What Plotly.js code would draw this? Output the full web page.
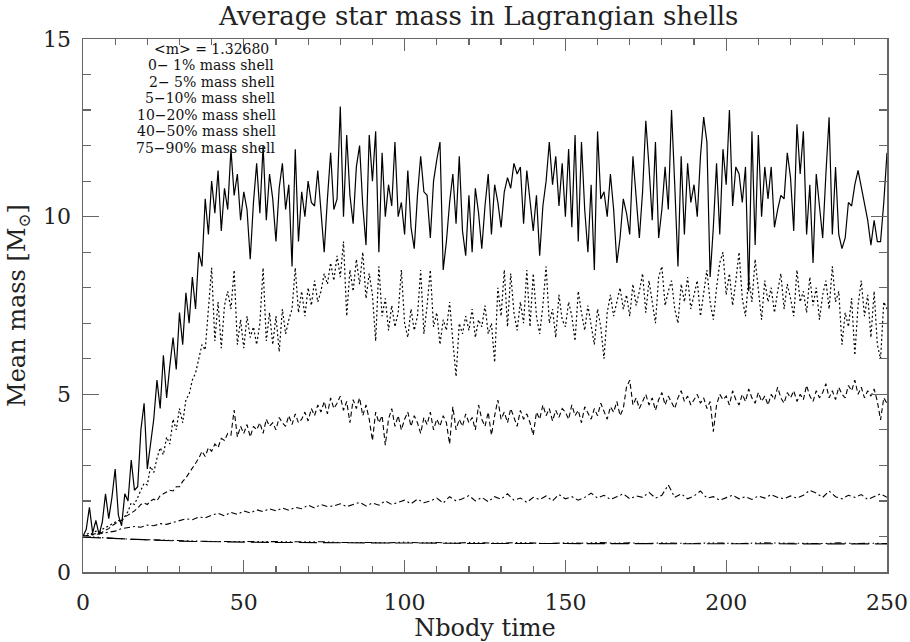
<!DOCTYPE html>
<html>
<head>
<meta charset="utf-8">
<script src="https://cdn.plot.ly/plotly-3.0.1.min.js"></script>
<style>html,body{margin:0;padding:0;background:#fff;}#chart{width:910px;height:642px;}</style>
</head>
<body>
<div id="chart"></div>
<script>
// ---- data (Nbody time, mean mass in solar masses) ----
var stepInner = 1;   // time step of the three inner shells
var stepMid = 2;     // time step of 10-20% shell
var stepOuter = 5;   // time step of outer shells

var shell0_1 = [
1.00,1.20,1.82,1.10,1.45,1.05,1.40,2.20,1.50,2.10,
2.90,1.60,1.30,2.20,2.00,3.15,2.30,2.40,4.00,4.75,
2.90,3.60,4.30,5.40,4.60,6.10,4.90,5.80,6.60,5.70,
7.30,6.40,7.86,7.00,8.30,7.40,9.00,8.60,10.50,9.50,
11.00,10.10,11.30,9.60,10.80,10.20,11.90,10.60,11.20,9.90,
10.70,10.20,8.80,10.40,11.50,10.10,12.00,9.90,11.20,10.50,
9.30,10.80,11.50,10.20,10.90,8.60,11.90,9.30,10.70,10.00,
11.00,10.40,10.30,11.30,10.10,9.00,10.50,11.80,10.20,10.50,
13.10,10.00,12.30,10.60,9.80,11.40,12.00,10.30,9.20,12.30,
11.00,12.40,9.00,11.80,10.00,10.90,10.30,12.10,10.00,10.40,
9.50,11.30,9.70,9.10,10.60,11.70,10.70,10.60,9.40,11.00,
11.60,12.10,8.50,9.30,10.40,11.20,9.80,11.70,9.60,8.90,
10.60,9.00,10.80,10.10,9.10,10.30,11.20,9.50,10.90,10.40,
9.70,10.70,11.10,10.80,11.50,11.20,11.40,9.80,11.30,10.50,
9.60,10.60,8.90,10.30,11.00,12.10,10.90,11.70,10.30,11.50,
10.00,11.90,9.70,12.30,9.30,12.10,10.20,9.00,10.90,8.50,
12.40,10.50,10.70,10.00,11.20,10.20,8.70,9.40,10.50,10.10,
9.50,11.70,10.60,9.40,10.70,12.70,11.40,9.90,12.10,9.40,
10.20,11.40,10.20,13.00,10.90,8.60,11.70,9.50,11.50,10.40,
10.90,10.00,11.70,12.80,12.10,8.30,9.70,11.50,9.50,11.90,
10.90,13.00,10.30,11.40,11.20,10.40,11.40,7.90,12.40,9.20,
12.30,10.00,11.40,10.50,11.40,9.70,10.20,10.60,10.50,11.80,
11.10,9.60,12.60,11.20,12.40,9.50,10.90,8.70,11.20,10.20,
9.40,11.20,12.80,9.50,11.40,9.50,9.10,9.40,10.40,10.30,
10.90,11.30,10.80,10.40,9.90,9.20,9.90,9.30,9.30,10.40,
11.80];

var shell2_5 = [
1.00,1.05,1.10,1.08,1.15,1.12,1.20,1.25,1.30,1.35,
1.40,1.45,1.42,1.55,1.70,1.95,1.90,2.10,2.30,2.50,
2.45,2.97,2.80,3.20,3.50,3.30,3.80,3.60,4.30,4.00,
4.60,4.20,4.85,5.00,5.40,5.60,6.00,6.40,6.25,7.40,
8.56,6.50,7.60,6.30,7.50,7.90,7.40,8.50,6.40,7.10,
6.30,7.20,6.60,6.90,6.40,7.00,8.56,6.50,7.30,6.40,
7.20,6.20,7.40,6.70,7.10,7.40,8.56,7.30,7.90,7.20,
8.00,7.50,8.20,7.60,7.90,8.40,8.10,8.70,8.20,8.90,
8.30,9.30,7.20,8.50,7.90,8.80,8.10,9.00,7.70,8.40,
7.80,6.50,8.60,7.20,7.70,6.80,7.50,6.90,7.30,8.50,
7.00,6.60,7.40,6.80,7.20,8.50,6.70,7.50,8.50,6.90,
7.30,6.40,7.10,6.80,7.60,6.50,5.50,7.00,6.70,7.20,
6.80,7.40,6.60,7.10,6.90,7.50,6.70,7.00,5.90,8.00,
7.20,8.50,6.90,8.40,7.30,6.80,7.60,7.00,8.50,6.90,
8.40,7.20,6.70,7.50,8.60,7.00,7.40,6.60,7.80,7.10,
6.90,7.60,7.20,6.50,7.90,7.30,6.80,7.50,7.00,6.40,
7.40,6.90,6.00,7.30,7.80,7.20,7.60,8.00,7.40,7.80,
7.20,8.10,7.50,7.90,8.40,7.30,8.20,7.60,7.00,8.30,
8.60,7.50,7.90,8.20,7.40,7.00,8.10,7.60,8.30,7.40,
7.80,8.20,7.20,7.90,8.50,7.60,7.10,8.00,8.70,9.00,
7.80,8.40,7.50,8.20,9.00,7.70,7.20,8.30,7.60,8.80,
7.90,7.10,8.20,7.60,8.00,7.30,7.90,8.40,7.40,8.10,
7.70,7.20,8.50,7.60,7.90,7.30,8.30,7.50,8.00,7.10,
7.80,8.20,7.40,8.60,7.60,7.90,6.40,7.30,6.90,7.70,
6.10,7.50,8.20,7.20,7.80,6.60,7.90,6.40,6.00,7.60,
7.40];

var shell5_10 = [
1.00,1.02,1.05,1.05,1.08,1.10,1.12,1.18,1.22,1.30,
1.37,1.42,1.45,1.55,1.60,1.65,1.72,1.80,1.90,1.94,
1.90,2.00,2.05,2.00,2.15,2.20,2.25,2.30,2.28,2.40,
2.40,2.55,2.65,2.78,2.90,3.06,3.20,3.40,3.25,3.50,
3.40,3.60,3.50,3.76,3.70,3.90,3.85,4.56,3.80,4.10,
3.90,4.15,3.80,4.10,4.00,4.20,3.90,4.30,4.10,4.20,
4.00,4.35,4.20,4.10,4.40,4.15,4.45,4.20,4.30,4.50,
4.25,4.60,4.40,4.70,4.50,4.80,4.45,4.90,4.60,4.75,
4.95,4.55,4.80,4.20,4.85,4.60,4.90,4.40,4.70,4.30,
3.70,4.50,4.20,4.40,3.57,4.30,4.60,4.10,4.40,4.00,
4.30,4.50,4.10,4.40,4.20,3.90,4.35,4.15,4.50,4.00,
4.30,4.10,4.40,4.20,3.60,4.65,4.00,4.30,4.10,4.45,
4.20,4.35,4.00,4.70,4.30,4.10,4.50,3.85,4.40,4.84,
4.30,4.50,4.20,4.60,4.35,4.10,4.55,4.30,4.45,4.20,
3.85,4.50,4.30,4.70,4.40,4.60,4.25,4.55,4.35,4.60,
4.50,4.30,4.70,4.40,4.55,4.20,4.65,4.45,4.30,4.60,
4.40,4.75,4.50,4.30,4.65,4.50,4.80,4.40,4.60,5.20,
5.40,4.70,4.90,4.60,4.80,5.00,4.70,4.90,4.55,4.85,
5.05,4.70,4.95,4.75,4.60,4.90,5.10,4.80,4.95,4.70,
4.85,5.00,4.75,4.90,4.60,4.80,3.95,4.70,5.00,4.85,
4.95,4.70,5.10,4.85,4.70,5.00,4.80,5.15,4.90,4.75,
5.05,4.80,4.95,4.70,5.00,4.85,5.20,4.90,4.75,5.05,
4.90,5.10,4.80,5.00,4.85,5.25,4.95,4.80,5.10,4.90,
5.05,5.30,4.90,5.10,4.85,5.20,5.00,4.90,5.25,5.10,
5.40,5.00,5.20,4.90,5.10,4.95,5.15,4.80,4.28,4.90,
4.75];

var shell10_20 = [
1.00,1.03,1.05,1.08,1.12,1.15,1.22,1.25,1.28,1.26,
1.32,1.30,1.36,1.34,1.40,1.45,1.50,1.47,1.55,1.52,
1.60,1.65,1.58,1.68,1.62,1.72,1.66,1.75,1.70,1.78,
1.72,1.80,1.74,1.82,1.78,1.88,1.80,1.90,1.84,1.86,
1.92,1.84,1.90,1.96,1.86,1.94,1.88,2.00,1.90,1.96,
2.02,1.92,2.05,1.95,2.00,2.08,1.94,2.12,2.00,2.06,
2.15,2.00,2.10,1.98,2.12,2.05,2.20,2.02,2.08,1.96,
2.10,2.04,2.14,2.00,2.18,2.06,2.12,2.02,2.10,2.22,
2.08,2.16,2.04,2.12,2.20,2.06,2.14,2.10,2.24,2.08,
2.16,2.45,2.10,2.20,2.06,2.14,2.28,2.08,2.12,2.02,
2.10,2.16,2.06,2.12,2.04,2.14,2.08,2.18,2.10,2.06,
2.14,2.08,2.16,2.30,2.22,2.10,2.28,2.12,2.06,2.16,
2.10,2.18,2.04,2.12,2.20,2.10];

var shell40_50 = [
1.00,0.97,0.95,0.92,0.91,0.89,0.88,0.87,0.86,0.86,
0.85,0.86,0.84,0.85,0.84,0.85,0.83,0.84,0.83,0.82,
0.84,0.82,0.83,0.81,0.83,0.82,0.81,0.83,0.82,0.80,
0.82,0.81,0.83,0.81,0.82,0.80,0.82,0.81,0.80,0.82,
0.81,0.80,0.82,0.81,0.80,0.81,0.80,0.82,0.80,0.81,
0.80];

var shell75_90 = [
0.98,0.96,0.93,0.91,0.89,0.88,0.87,0.86,0.85,0.85,
0.84,0.84,0.83,0.83,0.83,0.82,0.82,0.82,0.82,0.81,
0.81,0.81,0.81,0.81,0.80,0.81,0.80,0.80,0.81,0.80,
0.80,0.80,0.80,0.80,0.79,0.80,0.80,0.79,0.80,0.79,
0.79,0.80,0.79,0.79,0.79,0.79,0.79,0.78,0.79,0.79,
0.79];

var legendLines = [
  "&lt;m&gt; = 1.32680",
  "0\u2212 1% mass shell",
  "2\u2212 5% mass shell",
  "5\u221210% mass shell",
  "10\u221220% mass shell",
  "40\u221250% mass shell",
  "75\u221290% mass shell"
];
var xTickVals = [0, 50, 100, 150, 200, 250];
var yTickVals = [0, 5, 10, 15];

function times(arr, step) {
  var t = [];
  for (var i = 0; i < arr.length; i++) t.push(i * step);
  return t;
}

var FONT = "DejaVu Serif, Liberation Serif, serif";

function tr(y, step, dash, w) {
  return {
    x: times(y, step), y: y, type: 'scatter', mode: 'lines',
    line: {color: '#000', width: w || 1.1, dash: dash},
    hoverinfo: 'skip', showlegend: false
  };
}

var data = [
  tr(shell75_90, stepOuter, '18px,6px', 1.1),
  tr(shell40_50, stepOuter, '7px,3px,1.5px,3px,1.5px,3px,1.5px,3px', 1.1),
  tr(shell10_20, stepMid, '6px,3px,2px,3px', 1.1),
  tr(shell5_10, stepInner, '5px,3px', 1.1),
  tr(shell2_5, stepInner, '2px,2.5px', 1.2),
  tr(shell0_1, stepInner, 'solid', 1.2)
];

// legend text placement (pixels in the figure)
var legendRight = [271, 276, 277, 278, 279, 279, 278];
var legendTopY = 49, legendGap = 16.5;
var annotations = [];
for (var i = 0; i < legendLines.length; i++) {
  annotations.push({
    text: legendLines[i], xref: 'paper', yref: 'paper',
    x: (legendRight[i] - 83.3) / 804,
    y: (572 - (legendTopY + i * legendGap)) / 532.7,
    xanchor: 'right', yanchor: 'middle', showarrow: false,
    font: {family: FONT, size: 14, color: '#111'}
  });
}

var axisCommon = {
  showgrid: false, zeroline: false, showline: true, mirror: 'ticks',
  linecolor: '#666', linewidth: 1.5, ticks: 'inside', tickcolor: '#666',
  tickwidth: 1.2, tickfont: {family: FONT, size: 22, color: '#222'}
};

var layout = {
  width: 910, height: 642,
  margin: {l: 83, r: 23, t: 39, b: 70, pad: 0},
  paper_bgcolor: '#fff', plot_bgcolor: '#fff',
  title: {
    text: 'Average star mass in Lagrangian shells',
    font: {family: FONT, size: 26, color: '#222'},
    x: 0.526, xref: 'container', xanchor: 'center',
    y: 1 - 16 / 642, yref: 'container', yanchor: 'middle'
  },
  xaxis: Object.assign({}, axisCommon, {
    range: [0, 250], tickmode: 'array', tickvals: xTickVals,
    ticklen: 12, ticklabelstandoff: 10,
    minor: {dtick: 10, ticks: 'inside', ticklen: 6, tickcolor: '#666', tickwidth: 1.2, showgrid: false},
    title: {text: 'Nbody time', font: {family: FONT, size: 24, color: '#222'}, standoff: 2}
  }),
  yaxis: Object.assign({}, axisCommon, {
    range: [0, 15], tickmode: 'array', tickvals: yTickVals,
    ticklen: 16, ticklabelstandoff: 6,
    minor: {dtick: 1, ticks: 'inside', ticklen: 8, tickcolor: '#666', tickwidth: 1.2, showgrid: false},
    title: {text: 'Mean mass [M<sub>\u2299</sub>]', font: {family: FONT, size: 24, color: '#222'}, standoff: 10}
  }),
  annotations: annotations
};

Plotly.newPlot('chart', data, layout, {staticPlot: true, displayModeBar: false});
</script>
</body>
</html>
